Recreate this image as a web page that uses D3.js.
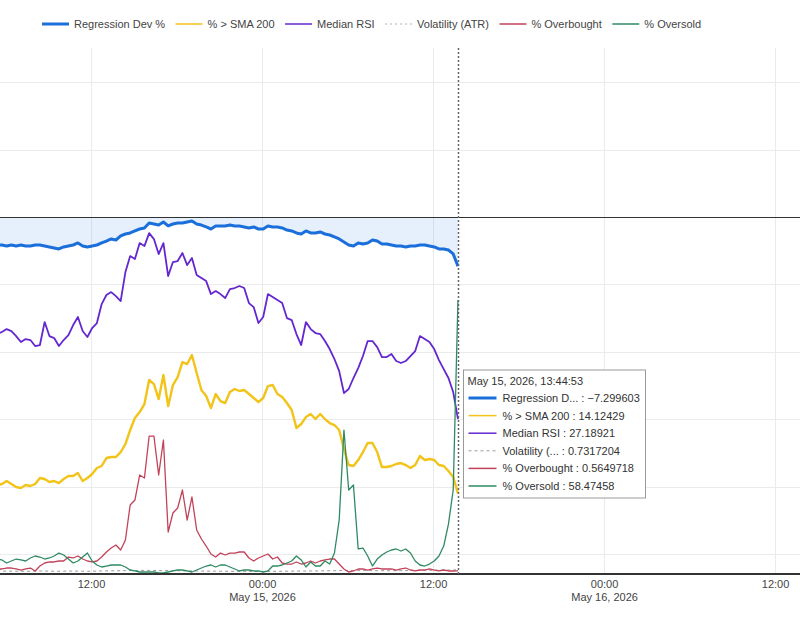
<!DOCTYPE html>
<html>
<head>
<meta charset="utf-8">
<script src="https://cdn.jsdelivr.net/npm/d3@7"></script>
<style>
  body { margin: 0; background: #fff; }
  svg text { font-family: Arial, "Liberation Sans", sans-serif; }
</style>
</head>
<body>
<div id="chart"></div>
<script>
// Samples every 20 minutes, the last one at the hovered time
const lastTime = new Date(2026, 4, 15, 13, 44, 53);
const stepMinutes = 20;

// Left (hidden) axis
const regressionDev = [
  -4.15, -4.15, -4.30, -4.15, -4.30, -4.15, -4.30, -4.30, -4.15, -4.15, -4.30,
  -4.44, -4.59, -4.74, -4.44, -4.30, -4.15, -3.85, -4.30, -4.44, -4.30,
  -4.15, -3.85, -3.56, -3.26, -3.41, -2.81, -2.52, -2.37, -2.07, -1.78,
  -1.63, -0.89, -1.04, -1.19, -0.74, -1.33, -1.04, -0.89, -0.89, -0.74,
  -0.59, -1.04, -1.19, -1.48, -1.78, -1.33, -1.33, -1.33, -1.19, -1.33,
  -1.33, -1.48, -1.63, -1.48, -1.78, -1.78, -1.33, -1.48, -1.48, -1.63,
  -1.93, -2.07, -2.37, -2.52, -2.07, -2.37, -2.37, -2.22, -2.52, -2.67,
  -2.96, -3.26, -3.70, -4.15, -4.30, -3.85, -4.00, -3.85, -3.41, -3.56,
  -4.00, -4.00, -4.15, -4.30, -4.30, -4.44, -4.30, -4.30, -4.15, -4.15,
  -4.30, -4.44, -4.74, -4.74, -4.89, -5.48, -7.30
];

// Right (hidden) axis
const pctAboveSma200 = [
  15.61, 15.79, 16.32, 15.79, 15.26, 15.09, 15.61, 15.44, 15.79, 16.84, 16.67,
  16.14, 16.32, 15.96, 16.67, 17.19, 17.19, 17.72, 16.32, 16.84, 17.54,
  18.60, 18.95, 20.35, 20.53, 20.53, 21.40, 22.81, 25.26, 27.37, 28.42,
  29.82, 34.04, 33.33, 30.70, 34.91, 29.47, 33.16, 34.56, 37.19, 36.84,
  38.42, 35.26, 32.28, 31.23, 29.12, 31.58, 30.35, 30.00, 31.93, 32.46,
  32.11, 32.28, 31.58, 30.88, 30.18, 30.88, 32.98, 33.16, 31.58, 31.05,
  30.00, 28.77, 25.61, 26.32, 27.54, 28.07, 27.19, 28.07, 27.19, 26.49,
  26.14, 25.26, 21.93, 19.12, 18.95, 20.00, 21.40, 22.98, 22.98, 21.40,
  18.77, 18.77, 18.95, 19.30, 19.47, 19.12, 18.60, 19.12, 20.70, 20.00,
  20.18, 20.00, 19.12, 18.95, 18.07, 17.02, 14.12
];

const medianRsi = [
  42.10, 42.46, 42.98, 42.63, 41.75, 40.70, 41.23, 41.05, 40.00, 40.18, 44.21,
  41.75, 41.40, 40.00, 41.05, 41.93, 43.68, 45.09, 42.63, 41.58, 43.16,
  44.04, 47.37, 48.95, 49.47, 48.77, 47.89, 52.98, 55.79, 55.26, 58.07,
  57.54, 59.82, 58.77, 56.14, 58.07, 52.28, 54.74, 54.91, 56.32, 54.21,
  55.44, 52.46, 51.93, 51.40, 49.12, 49.65, 49.12, 48.42, 50.00, 50.18,
  50.53, 50.18, 47.54, 46.84, 44.04, 45.09, 49.12, 48.60, 48.07, 47.54,
  44.91, 44.56, 42.11, 40.18, 44.21, 42.98, 42.28, 42.11, 40.88, 39.47,
  37.72, 35.61, 31.75, 32.46, 34.39, 36.14, 38.25, 40.88, 40.88, 39.82,
  38.07, 38.07, 38.60, 37.37, 37.02, 37.37, 38.25, 39.12, 41.75, 41.23,
  40.70, 39.47, 37.54, 35.96, 34.39, 31.93, 27.19
];

const volatilityAtr = [
  0.52, 0.50, 0.49, 0.51, 0.50, 0.48, 0.47, 0.49, 0.50, 0.52,
  0.51, 0.50, 0.49, 0.48, 0.50, 0.51, 0.52, 0.50, 0.49, 0.48,
  0.50, 0.52, 0.54, 0.55, 0.56, 0.57, 0.58, 0.60, 0.61, 0.62,
  0.63, 0.64, 0.63, 0.62, 0.61, 0.60, 0.59, 0.58, 0.57, 0.56,
  0.55, 0.54, 0.53, 0.52, 0.51, 0.50, 0.50, 0.49, 0.48, 0.47,
  0.47, 0.46, 0.46, 0.45, 0.45, 0.44, 0.44, 0.45, 0.46, 0.47,
  0.48, 0.49, 0.50, 0.51, 0.52, 0.52, 0.53, 0.54, 0.55, 0.56,
  0.57, 0.58, 0.60, 0.61, 0.62, 0.62, 0.61, 0.60, 0.60, 0.59,
  0.58, 0.58, 0.57, 0.57, 0.58, 0.59, 0.60, 0.61, 0.62, 0.63,
  0.64, 0.65, 0.66, 0.67, 0.68, 0.70, 0.72, 0.73
];

const pctOverbought = [
  0.88, 0.88, 1.05, 1.05, 0.88, 0.70, 0.88, 1.05, 0.53, 1.40, 1.93,
  2.11, 2.11, 2.28, 2.28, 2.98, 2.81, 3.16, 2.63, 2.28, 2.11,
  2.28, 2.98, 3.86, 4.56, 5.09, 4.21, 5.96, 12.11, 12.98, 17.37,
  16.84, 24.21, 24.21, 17.37, 23.51, 7.37, 10.70, 11.58, 14.74, 9.47,
  13.51, 7.72, 6.14, 4.91, 3.51, 2.98, 3.68, 3.33, 3.68, 3.68,
  3.86, 3.86, 2.81, 2.28, 2.81, 3.16, 3.51, 2.63, 2.98, 1.93,
  1.75, 1.75, 2.11, 1.75, 1.93, 2.28, 1.93, 2.28, 2.46, 2.63,
  2.63, 1.75, 0.88, 0.35, 0.53, 0.88, 0.88, 0.70, 0.88, 1.05,
  0.88, 0.88, 0.88, 0.70, 0.88, 1.05, 0.70, 0.53, 0.70, 0.70,
  0.88, 0.70, 0.53, 0.70, 0.53, 0.53, 0.56
];

const pctOversold = [
  2.63, 2.46, 1.93, 2.28, 2.63, 2.46, 2.28, 2.81, 3.16, 2.98, 2.63,
  2.81, 3.16, 3.68, 3.33, 2.63, 1.93, 2.28, 2.98, 3.68, 2.28,
  1.58, 1.23, 1.40, 1.58, 1.58, 1.58, 1.23, 0.70, 0.53, 0.35,
  0.35, 0.35, 0.35, 0.18, 0.18, 0.35, 0.53, 0.70, 0.70, 0.53,
  0.35, 0.70, 1.05, 1.40, 1.58, 1.23, 1.58, 1.58, 1.23, 0.88,
  0.53, 0.70, 0.70, 0.53, 0.53, 0.35, 0.53, 1.40, 1.40, 1.58,
  1.93, 2.28, 3.16, 2.46, 1.23, 2.11, 1.40, 1.40, 2.28, 1.75,
  3.68, 9.47, 25.26, 14.74, 15.61, 4.39, 4.56, 3.16, 1.40, 2.63,
  3.33, 3.86, 4.21, 4.39, 4.04, 4.39, 3.68, 2.28, 1.58, 1.40,
  1.75, 2.28, 3.16, 4.91, 8.77, 14.74, 48.07
];

const seriesNames = ['Regression Dev %', '% > SMA 200', 'Median RSI', 'Volatility (ATR)', '% Overbought', '% Oversold'];
const seriesColors = ['#1a6fdb', '#f2c318', '#6427cf', '#9a9a9a', '#c24259', '#2e8a62'];
const seriesWidths = [3, 2.4, 1.8, 1, 1.3, 1.3];

const tooltipTitle = 'May 15, 2026, 13:44:53';
const tooltipLabels = ['Regression D...', '% > SMA 200', 'Median RSI', 'Volatility (...', '% Overbought', '% Oversold'];
const tooltipValues = ['\u22127.299603', '14.12429', '27.18921', '0.7317204', '0.5649718', '58.47458'];

const width = 800, height = 618;
const plot = { left: 0, right: 800, top: 48, bottom: 574 };

const times = regressionDev.map((d, i) =>
  new Date(+lastTime - (regressionDev.length - 1 - i) * stepMinutes * 60000));

// The view is panned: it runs ~32h before the last sample and 24h past it
const x = d3.scaleTime()
  .domain([new Date(2026, 4, 14, 5, 36, 53), new Date(2026, 4, 16, 13, 44, 53)])
  .range([plot.left, plot.right]);
const yDev = d3.scaleLinear().domain([-52.9, 25.04]).range([plot.bottom, plot.top]);
const yPct = d3.scaleLinear().domain([0, 92.3]).range([plot.bottom, plot.top]);

const svg = d3.select('#chart').append('svg')
  .attr('width', width)
  .attr('height', height);

svg.append('defs').append('clipPath').attr('id', 'clip')
  .append('rect')
  .attr('x', plot.left).attr('y', plot.top)
  .attr('width', plot.right - plot.left).attr('height', plot.bottom - plot.top);

// Gridlines
const xTicks = x.ticks(d3.timeHour.every(12));
svg.append('g').selectAll('line')
  .data(xTicks)
  .join('line')
  .attr('x1', d => Math.round(x(d)) + 0.5).attr('x2', d => Math.round(x(d)) + 0.5)
  .attr('y1', plot.top).attr('y2', plot.bottom)
  .attr('stroke', '#ebebeb');

svg.append('g').selectAll('line')
  .data(d3.range(-50, 30, 10).filter(v => v !== 0))
  .join('line')
  .attr('x1', plot.left).attr('x2', plot.right)
  .attr('y1', d => Math.round(yDev(d)) + 0.5).attr('y2', d => Math.round(yDev(d)) + 0.5)
  .attr('stroke', '#ebebeb');

const marks = svg.append('g').attr('clip-path', 'url(#clip)');

// Shaded area between regression line and its zero baseline
marks.append('path')
  .datum(regressionDev)
  .attr('fill', '#1a73e8')
  .attr('fill-opacity', 0.11)
  .attr('d', d3.area()
    .x((d, i) => x(times[i]))
    .y0(yDev(0))
    .y1(d => yDev(d)));

// Baselines of both axes
svg.append('line')
  .attr('x1', plot.left).attr('x2', plot.right)
  .attr('y1', Math.round(yDev(0)) + 0.5).attr('y2', Math.round(yDev(0)) + 0.5)
  .attr('stroke', '#333').attr('stroke-width', 1);

const series = [
  { values: regressionDev, y: yDev },
  { values: pctAboveSma200, y: yPct },
  { values: medianRsi, y: yPct },
  { values: volatilityAtr, y: yPct, dash: '3,3' },
  { values: pctOverbought, y: yPct },
  { values: pctOversold, y: yPct },
];

series.forEach((s, k) => {
  marks.append('path')
    .datum(s.values)
    .attr('fill', 'none')
    .attr('stroke', seriesColors[k])
    .attr('stroke-width', seriesWidths[k])
    .attr('stroke-linejoin', 'round')
    .attr('stroke-dasharray', s.dash || null)
    .attr('d', d3.line()
      .x((d, i) => x(times[i]))
      .y(d => s.y(d)));
});

svg.append('line')
  .attr('x1', plot.left).attr('x2', plot.right)
  .attr('y1', plot.bottom).attr('y2', plot.bottom)
  .attr('stroke', '#333').attr('stroke-width', 2);

// X axis: time on first line, date under each midnight
const xAxis = d3.axisBottom(x)
  .ticks(d3.timeHour.every(12))
  .tickFormat(d3.timeFormat('%H:%M'))
  .tickSize(0)
  .tickPadding(6);
const gx = svg.append('g')
  .attr('transform', `translate(0,${plot.bottom})`)
  .call(xAxis);
gx.select('.domain').remove();
gx.selectAll('text')
  .attr('fill', '#444')
  .style('font-size', '11px')
  .style('font-family', 'Arial, "Liberation Sans", sans-serif');
gx.selectAll('.tick')
  .filter(d => d.getHours() === 0)
  .append('text')
  .attr('y', 26.5)
  .attr('fill', '#444')
  .attr('text-anchor', 'middle')
  .style('font-size', '11px')
  .text(d => d3.timeFormat('%b %-d, %Y')(d));

// Legend
const legend = svg.append('g').attr('transform', 'translate(0,24)');
let lx = 42;
seriesNames.forEach((name, k) => {
  legend.append('line')
    .attr('x1', lx).attr('x2', lx + 27)
    .attr('y1', 0).attr('y2', 0)
    .attr('stroke', seriesColors[k])
    .attr('stroke-width', k === 0 ? 3 : (k === 3 ? 1 : 2))
    .attr('stroke-dasharray', k === 3 ? '2,3' : null)
    .attr('opacity', k === 0 ? 1 : 0.75);
  const t = legend.append('text')
    .attr('x', lx + 32).attr('y', 4)
    .attr('fill', '#444')
    .style('font-size', '11px')
    .text(name);
  lx += 32 + t.node().getComputedTextLength() + 10.5;
});

// Hover crosshair and tooltip
const cx = Math.round(x(lastTime)) + 0.5;
svg.append('line')
  .attr('x1', cx).attr('x2', cx)
  .attr('y1', plot.top).attr('y2', plot.bottom)
  .attr('stroke', '#666')
  .attr('stroke-width', 1.5)
  .attr('stroke-dasharray', '2,2');

const tip = svg.append('g').attr('transform', `translate(${cx + 5},370)`);
tip.append('rect')
  .attr('x', 0).attr('y', 0)
  .attr('width', 182).attr('height', 128)
  .attr('fill', '#fff')
  .attr('stroke', '#9a9a9a');
tip.append('text')
  .attr('x', 4).attr('y', 15)
  .attr('fill', '#333')
  .style('font-size', '11px')
  .text(tooltipTitle);
tooltipLabels.forEach((label, k) => {
  const ry = 28 + k * 17.6;
  tip.append('line')
    .attr('x1', 5).attr('x2', 33)
    .attr('y1', ry).attr('y2', ry)
    .attr('stroke', seriesColors[k])
    .attr('stroke-width', k === 0 ? 3 : (k === 3 ? 1 : 1.5))
    .attr('stroke-dasharray', k === 3 ? '3,3' : null);
  tip.append('text')
    .attr('x', 39).attr('y', ry + 4)
    .attr('fill', '#333')
    .style('font-size', '11px')
    .text(`${label} : ${tooltipValues[k]}`);
});
</script>
</body>
</html>
